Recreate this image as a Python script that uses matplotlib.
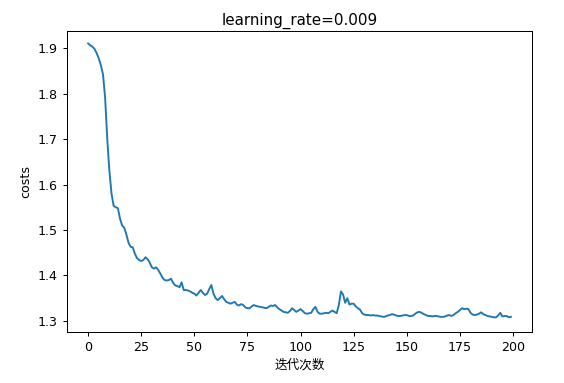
import matplotlib
matplotlib.use("Agg")
import matplotlib.pyplot as plt

# ── Data ──────────────────────────────────────────────────────────────────────
costs = [
    1.910, 1.906, 1.903, 1.898, 1.889, 1.877, 1.862, 1.842, 1.790, 1.700,
    1.630, 1.580, 1.553, 1.550, 1.548, 1.525, 1.510, 1.505, 1.490, 1.472,
    1.463, 1.462, 1.448, 1.438, 1.434, 1.432, 1.434, 1.440, 1.436, 1.428,
    1.418, 1.415, 1.418, 1.412, 1.404, 1.395, 1.390, 1.389, 1.390, 1.393,
    1.384, 1.378, 1.377, 1.374, 1.385, 1.368, 1.368, 1.367, 1.365, 1.362,
    1.360, 1.356, 1.362, 1.368, 1.362, 1.357, 1.360, 1.370, 1.379, 1.360,
    1.350, 1.346, 1.350, 1.355, 1.348, 1.342, 1.340, 1.338, 1.340, 1.342,
    1.336, 1.334, 1.337, 1.335, 1.330, 1.328, 1.328, 1.332, 1.335, 1.333,
    1.332, 1.331, 1.330, 1.329, 1.328, 1.331, 1.334, 1.333, 1.335, 1.330,
    1.326, 1.323, 1.320, 1.319, 1.318, 1.322, 1.328, 1.324, 1.320, 1.323,
    1.326, 1.322, 1.317, 1.316, 1.317, 1.318, 1.326, 1.331, 1.320, 1.316,
    1.316, 1.317, 1.318, 1.317, 1.320, 1.323, 1.320, 1.317, 1.335, 1.365,
    1.358, 1.340, 1.350, 1.336, 1.338, 1.338, 1.332, 1.328, 1.325, 1.317,
    1.314, 1.313, 1.313, 1.312, 1.313, 1.312, 1.312, 1.311, 1.310, 1.309,
    1.310, 1.312, 1.313, 1.315, 1.314, 1.312, 1.311, 1.311, 1.312, 1.313,
    1.313, 1.311, 1.311, 1.312, 1.316, 1.319, 1.320, 1.318, 1.315, 1.313,
    1.311, 1.311, 1.310, 1.311, 1.311, 1.310, 1.309, 1.309, 1.310, 1.312,
    1.313, 1.311, 1.313, 1.317, 1.320, 1.324, 1.328, 1.326, 1.327, 1.326,
    1.318, 1.314, 1.313, 1.314, 1.316, 1.319, 1.315, 1.313, 1.311, 1.310,
    1.309, 1.308, 1.308, 1.312, 1.318, 1.310, 1.311, 1.311, 1.308, 1.309,
]
learning_rate = 0.009
xlabel = "迭代次数"

# ── Figure ────────────────────────────────────────────────────────────────────
plt.rcParams["font.family"] = ["DejaVu Sans", "Noto Sans CJK SC"]
plt.rcParams["font.size"] = 9.1

fig = plt.figure(figsize=(5.64, 3.83), dpi=100)
ax = fig.add_axes([0.1188, 0.1332, 0.8245, 0.7858])

ax.plot(costs, color="#1f77b4", lw=1.37)
ax.set_ylim(1.2758, 1.9374)
ax.set_title(f"learning_rate={learning_rate}", fontsize=10.9, pad=4.5)
ax.set_ylabel("costs", fontsize=9.1)
ax.set_xlabel(xlabel, fontsize=9.1, family=["Noto Sans CJK SC", "DejaVu Sans"],
              labelpad=3)

for sp in ax.spines.values():
    sp.set_linewidth(0.73)
ax.tick_params(width=0.73, length=3.2, labelsize=9.1)

fig.savefig("out.png", dpi=100)
